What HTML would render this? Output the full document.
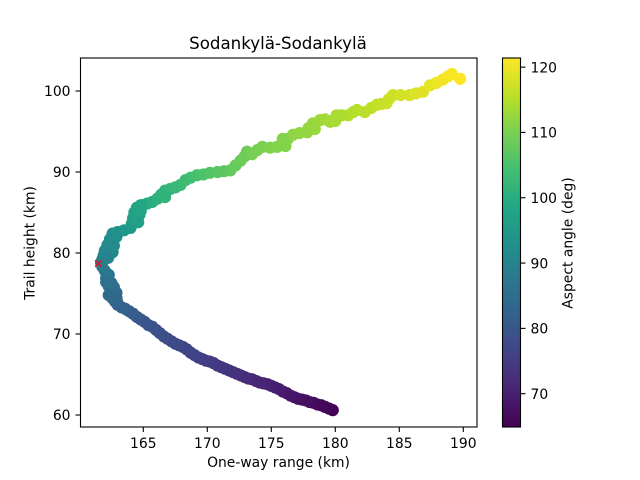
<!DOCTYPE html>
<html>
<head>
<meta charset="utf-8">
<style>
html,body{margin:0;padding:0;background:#fff;width:640px;height:480px;overflow:hidden}
svg{display:block}
text{font-family:"DejaVu Sans",sans-serif;fill:#000}
</style>
</head>
<body>
<svg id="chart" width="640" height="480" viewBox="0 0 640 480" xmlns="http://www.w3.org/2000/svg">
<defs><linearGradient id="viridis-gradient" x1="0" y1="1" x2="0" y2="0"></linearGradient></defs>
<g id="points"></g>
<g id="axes"></g>
<text x="278" y="49" font-size="16.67" text-anchor="middle">Sodankylä-Sodankylä</text>
<text x="278.5" y="467" font-size="13.89" text-anchor="middle">One-way range (km)</text>
<text transform="translate(34.5,243) rotate(-90)" font-size="13.89" text-anchor="middle">Trail height (km)</text>
<text transform="translate(572.5,243) rotate(-90)" font-size="13.89" text-anchor="middle">Aspect angle (deg)</text>
</svg>
<script>
const ranges = [179.8,179.5,179.2,178.9,178.6,178.3,178.0,177.7,177.4,177.1,
176.8,176.5,176.2,175.9,175.6,175.3,175.0,174.7,174.4,174.1,
173.8,173.5,173.2,172.9,172.6,172.3,172.0,171.7,171.4,171.1,
170.8,170.5,170.2,169.9,169.6,169.3,169.0,168.7,168.4,168.1,
167.8,167.5,167.2,166.9,166.6,166.3,166.0,165.7,165.4,165.1,
164.8,164.5,164.2,163.9,163.6,163.3,163.0,162.8,162.6,162.6,
162.5,162.3,162.1,162.1,162.3,162.0,161.8,161.7,161.8,161.9,
162.0,162.2,162.4,162.6,163.0,163.5,164.0,164.1,164.2,164.3,
164.5,164.9,165.3,165.7,166.1,166.4,166.7,167.1,167.5,167.9,
168.3,168.7,169.2,169.7,170.2,170.8,171.3,171.8,172.2,172.6,
172.9,173.1,173.5,173.9,174.3,174.9,175.45,175.9,176.3,176.7,
177.2,177.8,178.25,178.8,179.2,179.6,180.1,180.5,181.0,181.4,
181.7,182.3,182.8,183.25,183.6,184.0,184.5,185.1,185.8,186.3,
186.85,187.4,187.9,188.4,188.8,189.1,189.75,
162.5,162.9,162.95,162.6,162.9,164.7,164.8,166.7,176.1,175.9,
178.4,180.0,177.9,184.2,162.25,162.7,164.6,164.8,162.7,162.9,162.3];
const heights = [60.6,60.8,61.0,61.2,61.3,61.5,61.6,61.8,61.9,62.0,
62.2,62.4,62.7,62.9,63.2,63.4,63.6,63.8,63.9,64.0,
64.2,64.4,64.5,64.7,64.9,65.1,65.3,65.5,65.7,65.9,
66.1,66.4,66.6,66.7,66.9,67.1,67.4,67.7,68.1,68.4,
68.6,68.8,69.1,69.4,69.7,70.1,70.5,70.9,71.1,71.5,
71.8,72.1,72.5,72.8,73.1,73.3,73.6,74.0,74.4,74.9,
75.4,75.9,76.4,76.9,77.3,77.8,78.3,78.8,79.2,79.7,
80.3,81.0,81.7,82.4,82.6,82.8,83.1,83.6,84.3,85.0,
85.6,85.9,86.1,86.3,86.7,87.2,87.7,87.9,88.1,88.4,
89.0,89.3,89.6,89.7,89.9,90.0,90.1,90.2,90.8,91.4,
91.9,92.5,92.2,92.7,93.1,93.0,93.1,93.7,94.1,94.6,
94.8,94.9,96.0,96.4,96.5,96.2,97.0,97.0,97.0,97.4,
97.65,97.4,97.9,98.3,98.4,98.5,99.5,99.5,99.5,99.7,
99.9,100.7,101.0,101.4,101.8,102.1,101.5,
76.3,75.1,74.0,80.1,82.0,84.7,85.9,86.9,93.2,94.1,
95.3,96.3,95.4,99.0,79.4,80.9,83.8,85.2,75.8,74.5,74.8];
const aspects = [65,65.3,65.6,65.9,66.2,66.5,66.8,67.1,67.4,67.7,
68,68.3,68.6,68.9,69.2,69.5,69.8,70.1,70.4,70.7,
71,71.3,71.6,71.9,72.2,72.5,72.8,73.1,73.4,73.7,
74,74.3,74.6,74.9,75.2,75.5,75.8,76.1,76.4,76.7,
77,77.3,77.6,77.9,78.2,78.5,78.8,79.1,79.4,79.8,
80.2,80.6,81,81.4,81.8,82.2,82.6,83,83.5,84,
84.5,85,85.5,86,86.7,87.4,88,88.7,89.4,90.1,
90.8,91.5,92.2,93,93.7,94.4,95,95.7,96.4,97.1,
98,98.7,99.4,100,100.6,101,101.5,102,102.5,103,
103.5,104,104.7,105.3,106,106.5,107,107.5,108,108.5,
108.8,109,109.4,109.8,110.1,110.5,110.8,111,111.3,111.6,
112,112.3,112.7,113,113.3,113.6,114,114.3,114.6,115,
115.2,115.5,115.8,116.2,116.5,116.8,117.2,117.6,118,118.4,
118.8,119.3,119.8,120.3,120.7,121,121.4,
86,85,83.5,91,93,97.5,98.5,101.5,110.9,110.9,
112.7,114,112.5,117,90,91.8,96.8,98,85.6,84,84];
const markerRange = [161.5];
const markerHeight = [78.7];
const xTicks = [165,170,175,180,185,190];
const yTicks = [60,70,80,90,100];
const cTicks = [70,80,90,100,110,120];
const aspectDomain = [64.9,121.4];

const NS = 'http://www.w3.org/2000/svg';
const viridis = ['#440154','#482475','#414487','#355f8d','#2a788e','#21918c','#22a884','#44bf70','#7ad151','#bddf26','#fde725'];
const PLOT = {left:80.5,right:477,top:58,bottom:427};
const BAR = {left:502.5,right:520.5,top:58,bottom:427};
const xScale = v => 143.3 + (v - 165) * 12.8;
const yScale = v => 415 - (v - 60) * 8.1;
const cScale = v => BAR.bottom - (v - aspectDomain[0]) / (aspectDomain[1] - aspectDomain[0]) * (BAR.bottom - BAR.top);
function hexRgb(h){return [1,3,5].map(i=>parseInt(h.slice(i,i+2),16));}
function colorFor(v){
  const t = Math.max(0,Math.min(1,(v-aspectDomain[0])/(aspectDomain[1]-aspectDomain[0])))*(viridis.length-1);
  const i = Math.min(viridis.length-2,Math.floor(t)), f = t-i;
  const a = hexRgb(viridis[i]), b = hexRgb(viridis[i+1]);
  return 'rgb('+a.map((c,k)=>Math.round(c+(b[k]-c)*f)).join(',')+')';
}
function make(tag,attrs,parent){
  const el = document.createElementNS(NS,tag);
  for(const k in attrs) el.setAttribute(k,attrs[k]);
  parent.appendChild(el);
  return el;
}
const pointsG = document.getElementById('points');
const axesG = document.getElementById('axes');
const grad = document.getElementById('viridis-gradient');
viridis.forEach((c,i)=>make('stop',{offset:(i/(viridis.length-1)),'stop-color':c},grad));

ranges.forEach((r,i)=>{
  const c = make('circle',{cx:xScale(r),cy:yScale(heights[i]),r:6.1,fill:colorFor(aspects[i])},pointsG);
  
  
});
markerRange.forEach((r,i)=>{
  const px = xScale(r), py = yScale(markerHeight[i]), s = 3.4;
  const m = make('path',{d:`M${px-s} ${py-s}L${px+s} ${py+s}M${px-s} ${py+s}L${px+s} ${py-s}`,stroke:'#ea1024','stroke-width':1.5,fill:'none'},pointsG);
  
  
});

const frame = make('rect',{x:PLOT.left,y:PLOT.top,width:PLOT.right-PLOT.left,height:PLOT.bottom-PLOT.top,fill:'none',stroke:'#000','stroke-width':1.1},axesG);



xTicks.forEach(v=>{
  const x = xScale(v);
  const t = make('line',{x1:x,x2:x,y1:PLOT.bottom,y2:PLOT.bottom+5,stroke:'#000','stroke-width':1.1},axesG);
  
  
  const l = make('text',{x:x,y:PLOT.bottom+21,'font-size':13.89,'text-anchor':'middle'},axesG);
  l.textContent = v;
  
  
});
yTicks.forEach(v=>{
  const y = yScale(v);
  const t = make('line',{x1:PLOT.left-5,x2:PLOT.left,y1:y,y2:y,stroke:'#000','stroke-width':1.1},axesG);
  
  
  const l = make('text',{x:PLOT.left-10,y:y+5.2,'font-size':13.89,'text-anchor':'end'},axesG);
  l.textContent = v;
  
  
});

const bar = make('rect',{x:BAR.left,y:BAR.top,width:BAR.right-BAR.left,height:BAR.bottom-BAR.top,fill:'url(#viridis-gradient)',stroke:'#000','stroke-width':1.1},axesG);


cTicks.forEach(v=>{
  const y = cScale(v);
  const t = make('line',{x1:BAR.right,x2:BAR.right+5,y1:y,y2:y,stroke:'#000','stroke-width':1.1},axesG);
  
  
  const l = make('text',{x:BAR.right+10,y:y+5.2,'font-size':13.89,'text-anchor':'start'},axesG);
  l.textContent = v;
  
  
});
</script>
</body>
</html>
